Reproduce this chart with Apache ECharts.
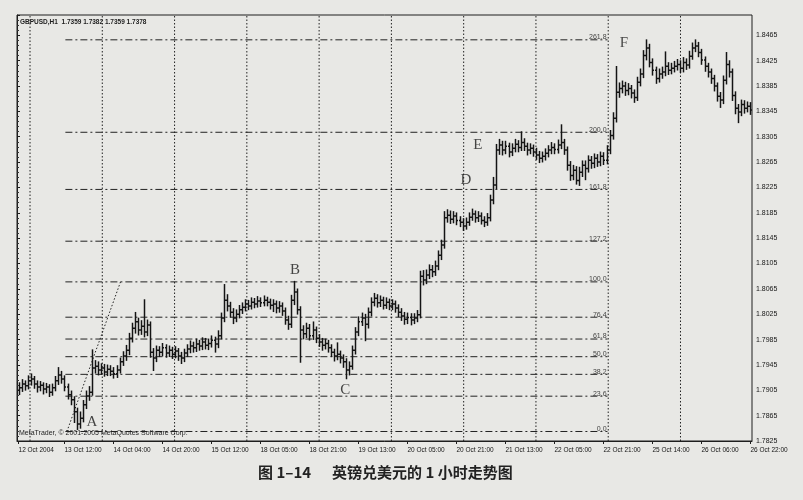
<!DOCTYPE html>
<html><head><meta charset="utf-8">
<script src="https://cdn.jsdelivr.net/npm/echarts@6/dist/echarts.min.js"></script>
<style>html,body{margin:0;padding:0;background:#e8e8e5;}#c{width:803px;height:500px;}</style>
</head><body><div id="c"></div><script>
// ---- data (GBPUSD H1) ----
const opens = [
1.7905,1.7909,1.7915,1.7912,1.7920,1.7923,1.7915,1.7910,1.7913,1.7907,
1.7910,1.7902,1.7909,1.7920,1.7929,1.7923,1.7910,1.7898,1.7890,1.7871,
1.7852,1.7861,1.7882,1.7896,1.7902,1.7940,1.7943,1.7937,1.7940,1.7934,
1.7938,1.7935,1.7931,1.7937,1.7950,1.7959,1.7968,1.7987,1.8003,1.8013,
1.8000,1.8006,1.7997,1.8008,1.7965,1.7956,1.7968,1.7965,1.7972,1.7964,
1.7968,1.7962,1.7967,1.7959,1.7956,1.7964,1.7970,1.7975,1.7972,1.7978,
1.7975,1.7981,1.7976,1.7979,1.7984,1.7978,1.7991,1.8019,1.8047,1.8038,
1.8028,1.8019,1.8025,1.8032,1.8036,1.8041,1.8038,1.8044,1.8041,1.8046,
1.8043,1.8047,1.8044,1.8039,1.8041,1.8035,1.8038,1.8030,1.8016,1.8009,
1.8047,1.8060,1.8032,1.8000,1.7994,1.8003,1.7991,1.8000,1.7987,1.7981,
1.7976,1.7979,1.7972,1.7965,1.7959,1.7962,1.7956,1.7950,1.7937,1.7943,
1.7968,1.7997,1.8013,1.8019,1.8009,1.8028,1.8044,1.8050,1.8043,1.8047,
1.8039,1.8044,1.8038,1.8041,1.8035,1.8028,1.8022,1.8017,1.8020,1.8016,
1.8019,1.8024,1.8085,1.8079,1.8087,1.8095,1.8092,1.8101,1.8118,1.8134,
1.8177,1.8181,1.8175,1.8180,1.8173,1.8170,1.8164,1.8170,1.8178,1.8183,
1.8177,1.8180,1.8173,1.8170,1.8177,1.8205,1.8229,1.8284,1.8292,1.8284,
1.8290,1.8281,1.8287,1.8293,1.8288,1.8296,1.8290,1.8284,1.8287,1.8281,
1.8276,1.8271,1.8274,1.8279,1.8284,1.8288,1.8285,1.8292,1.8296,1.8284,
1.8260,1.8244,1.8252,1.8236,1.8249,1.8260,1.8255,1.8268,1.8263,1.8271,
1.8265,1.8274,1.8268,1.8284,1.8307,1.8334,1.8375,1.8381,1.8385,1.8378,
1.8381,1.8374,1.8367,1.8391,1.8404,1.8433,1.8445,1.8422,1.8410,1.8397,
1.8404,1.8407,1.8416,1.8410,1.8413,1.8416,1.8419,1.8413,1.8422,1.8418,
1.8432,1.8445,1.8448,1.8438,1.8426,1.8416,1.8407,1.8397,1.8385,1.8369,
1.8363,1.8394,1.8419,1.8407,1.8370,1.8350,1.8344,1.8356,1.8350,1.8353];
const highs = [
1.7916,1.7921,1.7919,1.7927,1.7930,1.7926,1.7919,1.7918,1.7916,1.7915,
1.7913,1.7914,1.7926,1.7940,1.7934,1.7927,1.7914,1.7903,1.7894,1.7876,
1.7870,1.7888,1.7903,1.7910,1.7968,1.7951,1.7949,1.7946,1.7945,1.7944,
1.7943,1.7940,1.7943,1.7955,1.7965,1.7975,1.7994,1.8010,1.8027,1.8018,
1.8014,1.8047,1.8015,1.8012,1.7970,1.7974,1.7973,1.7978,1.7976,1.7974,
1.7972,1.7973,1.7970,1.7964,1.7969,1.7976,1.7982,1.7980,1.7985,1.7983,
1.7987,1.7986,1.7985,1.7990,1.7988,1.7998,1.8026,1.8071,1.8055,1.8043,
1.8033,1.8031,1.8038,1.8042,1.8047,1.8046,1.8050,1.8049,1.8052,1.8050,
1.8053,1.8051,1.8048,1.8047,1.8045,1.8044,1.8042,1.8034,1.8021,1.8054,
1.8076,1.8064,1.8036,1.8006,1.8010,1.8008,1.8012,1.8004,1.7992,1.7986,
1.7985,1.7983,1.7976,1.7969,1.7979,1.7966,1.7960,1.7954,1.7949,1.7974,
1.8003,1.8020,1.8026,1.8024,1.8034,1.8050,1.8057,1.8055,1.8053,1.8051,
1.8050,1.8048,1.8047,1.8045,1.8039,1.8033,1.8027,1.8026,1.8025,1.8025,
1.8030,1.8092,1.8093,1.8094,1.8102,1.8101,1.8108,1.8124,1.8141,1.8186,
1.8189,1.8187,1.8186,1.8184,1.8178,1.8175,1.8176,1.8184,1.8190,1.8187,
1.8186,1.8184,1.8178,1.8183,1.8212,1.8240,1.8292,1.8300,1.8297,1.8297,
1.8294,1.8293,1.8300,1.8298,1.8312,1.8301,1.8294,1.8293,1.8291,1.8286,
1.8281,1.8280,1.8285,1.8290,1.8295,1.8293,1.8299,1.8323,1.8300,1.8288,
1.8265,1.8259,1.8257,1.8256,1.8266,1.8266,1.8274,1.8273,1.8277,1.8276,
1.8280,1.8279,1.8290,1.8314,1.8342,1.8415,1.8389,1.8392,1.8390,1.8388,
1.8385,1.8378,1.8398,1.8411,1.8440,1.8457,1.8450,1.8427,1.8414,1.8411,
1.8414,1.8438,1.8421,1.8420,1.8423,1.8426,1.8424,1.8429,1.8427,1.8439,
1.8452,1.8457,1.8453,1.8442,1.8430,1.8420,1.8411,1.8401,1.8389,1.8374,
1.8400,1.8437,1.8424,1.8411,1.8375,1.8355,1.8362,1.8361,1.8359,1.8358];
const lows = [
1.7899,1.7904,1.7906,1.7908,1.7914,1.7909,1.7903,1.7905,1.7900,1.7902,
1.7896,1.7898,1.7905,1.7915,1.7917,1.7905,1.7892,1.7883,1.7855,1.7844,
1.7846,1.7856,1.7877,1.7890,1.7898,1.7933,1.7930,1.7931,1.7928,1.7929,
1.7929,1.7925,1.7926,1.7933,1.7945,1.7953,1.7962,1.7982,1.7996,1.7993,
1.7994,1.7990,1.7992,1.7958,1.7937,1.7951,1.7959,1.7960,1.7958,1.7959,
1.7956,1.7957,1.7953,1.7948,1.7951,1.7959,1.7965,1.7966,1.7967,1.7969,
1.7970,1.7971,1.7970,1.7974,1.7966,1.7973,1.7987,1.8014,1.8031,1.8021,
1.8011,1.8014,1.8020,1.8027,1.8031,1.8033,1.8034,1.8036,1.8037,1.8038,
1.8039,1.8039,1.8034,1.8030,1.8028,1.8029,1.8024,1.8010,1.8002,1.8005,
1.8041,1.8026,1.7950,1.7987,1.7989,1.7985,1.7986,1.7981,1.7975,1.7969,
1.7971,1.7966,1.7959,1.7952,1.7954,1.7949,1.7942,1.7924,1.7930,1.7939,
1.7963,1.7992,1.8008,1.7984,1.8004,1.8023,1.8039,1.8037,1.8038,1.8034,
1.8035,1.8033,1.8033,1.8029,1.8022,1.8016,1.8010,1.8011,1.8009,1.8011,
1.8014,1.8020,1.8072,1.8074,1.8082,1.8085,1.8087,1.8096,1.8112,1.8130,
1.8171,1.8169,1.8170,1.8167,1.8164,1.8158,1.8160,1.8166,1.8174,1.8171,
1.8172,1.8168,1.8164,1.8166,1.8173,1.8200,1.8224,1.8278,1.8277,1.8279,
1.8274,1.8276,1.8282,1.8282,1.8284,1.8284,1.8277,1.8279,1.8275,1.8270,
1.8265,1.8266,1.8269,1.8274,1.8279,1.8279,1.8280,1.8287,1.8278,1.8253,
1.8237,1.8238,1.8231,1.8229,1.8243,1.8238,1.8250,1.8256,1.8257,1.8259,
1.8260,1.8262,1.8263,1.8279,1.8302,1.8329,1.8368,1.8375,1.8371,1.8372,
1.8367,1.8360,1.8363,1.8386,1.8399,1.8427,1.8416,1.8403,1.8390,1.8392,
1.8398,1.8402,1.8404,1.8405,1.8408,1.8411,1.8407,1.8408,1.8412,1.8414,
1.8428,1.8440,1.8432,1.8420,1.8409,1.8400,1.8390,1.8378,1.8362,1.8352,
1.8358,1.8389,1.8400,1.8363,1.8342,1.8328,1.8339,1.8343,1.8345,1.8341];
const closes = [
1.7909,1.7915,1.7912,1.7920,1.7923,1.7915,1.7910,1.7913,1.7907,1.7910,
1.7902,1.7909,1.7920,1.7929,1.7923,1.7910,1.7898,1.7890,1.7871,1.7852,
1.7861,1.7882,1.7896,1.7902,1.7940,1.7943,1.7937,1.7940,1.7934,1.7938,
1.7935,1.7931,1.7937,1.7950,1.7959,1.7968,1.7987,1.8003,1.8013,1.8000,
1.8006,1.7997,1.8008,1.7965,1.7956,1.7968,1.7965,1.7972,1.7964,1.7968,
1.7962,1.7967,1.7959,1.7956,1.7964,1.7970,1.7975,1.7972,1.7978,1.7975,
1.7981,1.7976,1.7979,1.7984,1.7978,1.7991,1.8019,1.8047,1.8038,1.8028,
1.8019,1.8025,1.8032,1.8036,1.8041,1.8038,1.8044,1.8041,1.8046,1.8043,
1.8047,1.8044,1.8039,1.8041,1.8035,1.8038,1.8030,1.8016,1.8009,1.8047,
1.8060,1.8032,1.8000,1.7994,1.8003,1.7991,1.8000,1.7987,1.7981,1.7976,
1.7979,1.7972,1.7965,1.7959,1.7962,1.7956,1.7950,1.7937,1.7943,1.7968,
1.7997,1.8013,1.8019,1.8009,1.8028,1.8044,1.8050,1.8043,1.8047,1.8039,
1.8044,1.8038,1.8041,1.8035,1.8028,1.8022,1.8017,1.8020,1.8016,1.8019,
1.8024,1.8085,1.8079,1.8087,1.8095,1.8092,1.8101,1.8118,1.8134,1.8177,
1.8181,1.8175,1.8180,1.8173,1.8170,1.8164,1.8170,1.8178,1.8183,1.8177,
1.8180,1.8173,1.8170,1.8177,1.8205,1.8229,1.8284,1.8292,1.8284,1.8290,
1.8281,1.8287,1.8293,1.8288,1.8296,1.8290,1.8284,1.8287,1.8281,1.8276,
1.8271,1.8274,1.8279,1.8284,1.8288,1.8285,1.8292,1.8296,1.8284,1.8260,
1.8244,1.8252,1.8236,1.8249,1.8260,1.8255,1.8268,1.8263,1.8271,1.8265,
1.8274,1.8268,1.8284,1.8307,1.8334,1.8375,1.8381,1.8385,1.8378,1.8381,
1.8374,1.8367,1.8391,1.8404,1.8433,1.8445,1.8422,1.8410,1.8397,1.8404,
1.8407,1.8416,1.8410,1.8413,1.8416,1.8419,1.8413,1.8422,1.8418,1.8432,
1.8445,1.8448,1.8438,1.8426,1.8416,1.8407,1.8397,1.8385,1.8369,1.8363,
1.8394,1.8419,1.8407,1.8370,1.8350,1.8344,1.8356,1.8350,1.8353,1.8347];

const tickBars   = [0, 15, 31, 47, 63, 79, 95, 111, 127, 143, 159, 175, 191, 207, 223, 239];
const tickLabels = ["12 Oct 2004","13 Oct 12:00","14 Oct 04:00","14 Oct 20:00","15 Oct 12:00",
  "18 Oct 05:00","18 Oct 21:00","19 Oct 13:00","20 Oct 05:00","20 Oct 21:00","21 Oct 13:00",
  "22 Oct 05:00","22 Oct 21:00","25 Oct 14:00","26 Oct 06:00","26 Oct 22:00"];

const fibRatios = [0, 23.6, 38.2, 50.0, 61.8, 76.4, 100.0, 127.2, 161.8, 200.0, 261.8];
const fibLow = 1.7840, fibHigh = 1.8076;

const waveNames  = ["A", "B", "C", "D", "E", "F"];
const waveBars   = [24.5, 90.8, 107.2, 146.6, 150.5, 198.2];
const wavePrices = [1.7855, 1.8095, 1.7905, 1.8236, 1.8292, 1.8452];

// ---- layout / style constants ----
const N = closes.length;
const yMin = 1.7825, yMax = 1.8497, yStep = 0.004;
const barColor = '#141414';
const tickMap = {};
tickBars.forEach((b, k) => { tickMap[b] = tickLabels[k]; });
const gridStart = 4.25, gridStep = 23.6, gridCount = 10;
const fibFrom = 15.8, fibTo = 192.8;

const ohlcData = closes.map((c, i) => [i, opens[i], highs[i], lows[i], c]);

const series = [];
// vertical dotted grid
for (let k = 0; k < gridCount; k++) {
  const v = gridStart + k * gridStep;
  series.push({type:'line', xAxisIndex:1, yAxisIndex:0, silent:true, symbol:'none', z:1,
    data:[[v, yMin], [v, yMax]], lineStyle:{color:'#222', width:1, type:[1.5, 2]}});
}
// fibonacci levels
const fibLabelData = [];
fibRatios.forEach(r => {
  const p = fibLow + (fibHigh - fibLow) * r / 100;
  series.push({type:'line', xAxisIndex:1, yAxisIndex:0, silent:true, symbol:'none', z:2,
    data:[[fibFrom, p], [fibTo, p]], lineStyle:{color:'#222', width:1, type:[7, 3, 2, 3]}});
  fibLabelData.push([fibTo - 0.3, p, r.toFixed(1)]);
});
series.push({type:'scatter', xAxisIndex:1, yAxisIndex:0, silent:true, symbolSize:0, z:2,
  data: fibLabelData,
  label:{show:true, position:[0, 1], align:'right', verticalAlign:'bottom',
    formatter: p => p.data[2], fontSize:7, color:'#111', fontFamily:'Liberation Sans'}});
// fib trend line
series.push({type:'line', xAxisIndex:1, yAxisIndex:0, silent:true, symbol:'none', z:2,
  data:[[16.3, fibLow], [33.8, fibHigh]], lineStyle:{color:'#222', width:1, type:[1.5, 2]}});
// OHLC bars
series.push({type:'custom', xAxisIndex:0, yAxisIndex:0, z:5, data: ohlcData,
  encode:{x:0, y:[1, 2, 3, 4]},
  renderItem: (params, api) => {
    const i = api.value(0);
    const pH = api.coord([i, api.value(2)]);
    const pL = api.coord([i, api.value(3)]);
    const pO = api.coord([i, api.value(1)]);
    const pC = api.coord([i, api.value(4)]);
    const x = Math.round(pH[0]) + 0.5;
    const st = {stroke: barColor, lineWidth: 1.5};
    return {type:'group', children:[
      {type:'line', shape:{x1:x, y1:pH[1] - 1, x2:x, y2:pL[1] + 1}, style:st},
      {type:'line', shape:{x1:x - 1.5, y1:pO[1], x2:x, y2:pO[1]}, style:st},
      {type:'line', shape:{x1:x, y1:pC[1], x2:x + 1.5, y2:pC[1]}, style:st}
    ]};
  }});
// wave labels
series.push({type:'scatter', xAxisIndex:1, yAxisIndex:0, silent:true, symbolSize:0, z:6,
  data: waveNames.map((n, k) => [waveBars[k], wavePrices[k], n]),
  label:{show:true, position:'inside', formatter: p => p.data[2], fontSize:15,
    color:'#1a1a1a', fontFamily:'Liberation Serif'}});

const chart = echarts.init(document.getElementById('c'), null, {renderer:'canvas'});
chart.setOption({
  animation:false,
  backgroundColor:'#e8e8e5',
  grid:{left:17, right:51, top:15, bottom:59, show:true, borderColor:'#1e1e1e', borderWidth:1},
  xAxis:[{
    type:'category', data: closes.map((_, i) => String(i)), boundaryGap:true,
    axisLine:{show:true, lineStyle:{color:'#1e1e1e', width:1}},
    axisTick:{show:true, length:3, alignWithLabel:true, interval:(i) => tickMap[i] !== undefined,
      lineStyle:{color:'#1e1e1e'}},
    axisLabel:{interval:(i) => tickMap[i] !== undefined, formatter:(v, i) => tickMap[i] || '',
      align:'left', fontSize:6.5, color:'#151515', margin:6, fontFamily:'Liberation Sans',
      hideOverlap:false},
    splitLine:{show:false}
  },{
    type:'value', min:0, max:N, show:false
  }],
  yAxis:{
    type:'value', position:'right', min:yMin, max:yMax, interval:yStep,
    axisLine:{show:true, lineStyle:{color:'#1e1e1e'}},
    axisTick:{show:true, length:3, lineStyle:{color:'#1e1e1e'}},
    minorTick:{show:true, splitNumber:5, length:2, lineStyle:{color:'#333'}},
    axisLabel:{showMaxLabel:false, formatter: v => v.toFixed(4), fontSize:7,
      color:'#151515', margin:4, fontFamily:'Liberation Sans'},
    splitLine:{show:false}
  },
  series: series,
  graphic:[
    {type:'text', left:20, top:19, z:10, style:{text:'GBPUSD,H1  1.7359 1.7382 1.7359 1.7378',
      font:'bold 6.5px "Liberation Sans"', fill:'#1e1e1e'}},
    {type:'text', left:19, top:430, z:10, style:{text:'MetaTrader, © 2001-2005 MetaQuotes Software Corp.',
      font:'7px "Liberation Sans"', fill:'#1e1e1e'}},
    {type:'text', left:258, top:465, z:10, style:{text:'图 1–14',
      font:'bold 15px "Noto Sans CJK SC"', fill:'#222'}},
    {type:'text', left:332, top:465, z:10, style:{text:'英镑兑美元的 1 小时走势图',
      font:'bold 15px "Noto Sans CJK SC"', fill:'#222'}}
  ]
});
</script></body></html>
